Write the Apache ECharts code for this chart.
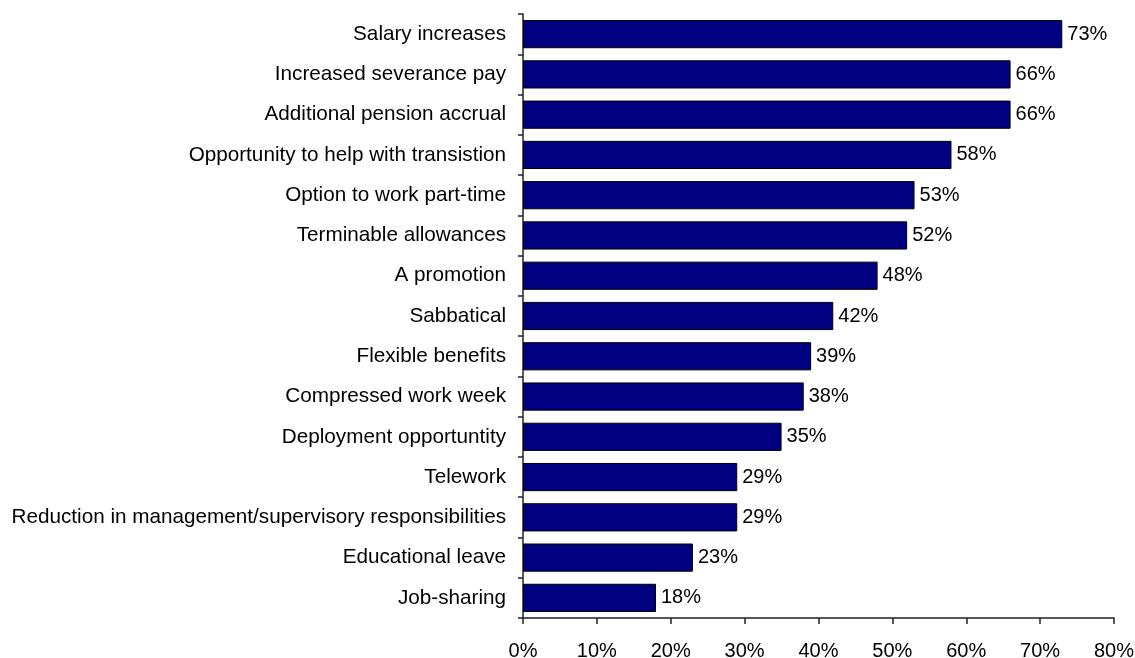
<!DOCTYPE html>
<html>
<head>
<meta charset="utf-8">
<script src="https://cdn.jsdelivr.net/npm/echarts@6/dist/echarts.min.js"></script>
<style>
  html, body { margin: 0; padding: 0; background: #ffffff; }
  #chart { width: 1135px; height: 658px; }
</style>
</head>
<body>
<div id="chart"></div>
<script>
// Incentives, top to bottom as listed
const categories = [
  'Salary increases',
  'Increased severance pay',
  'Additional pension accrual',
  'Opportunity to help with transistion',
  'Option to work part-time',
  'Terminable allowances',
  'A promotion',
  'Sabbatical',
  'Flexible benefits',
  'Compressed work week',
  'Deployment opportuntity',
  'Telework',
  'Reduction in management/supervisory responsibilities',
  'Educational leave',
  'Job-sharing'
];
// Share of respondents (%)
const values = [73, 66, 66, 58, 53, 52, 48, 42, 39, 38, 35, 29, 29, 23, 18];

const FONT = '"Liberation Sans", Arial, sans-serif';
const chart = echarts.init(document.getElementById('chart'));
chart.setOption({
  animation: false,
  grid: { left: 523, right: 21, top: 14, bottom: 40, containLabel: false, outerBoundsMode: 'none' },
  xAxis: {
    type: 'value',
    min: 0, max: 80, interval: 10,
    axisLine: { show: true, lineStyle: { color: '#222', width: 1.5 } },
    axisTick: { show: true, length: 6, lineStyle: { color: '#222', width: 1.5 } },
    splitLine: { show: false },
    axisLabel: { formatter: '{value}%', color: '#000', fontFamily: FONT, fontSize: 20, margin: 23 }
  },
  yAxis: {
    type: 'category',
    inverse: true,
    data: categories,
    axisLine: { show: true, lineStyle: { color: '#222', width: 1.5 } },
    axisTick: { show: true, length: 5, lineStyle: { color: '#222', width: 1.5 } },
    axisLabel: { color: '#000', fontFamily: FONT, fontSize: 20.7, margin: 17 }
  },
  series: [{
    type: 'bar',
    data: values,
    barCategoryGap: '30%',
    itemStyle: { color: '#000080', borderColor: '#000', borderWidth: 1 },
    label: {
      show: true, position: 'right', distance: 5,
      formatter: '{c}%', color: '#000', fontFamily: FONT, fontSize: 20
    }
  }]
});
</script>
</body>
</html>
